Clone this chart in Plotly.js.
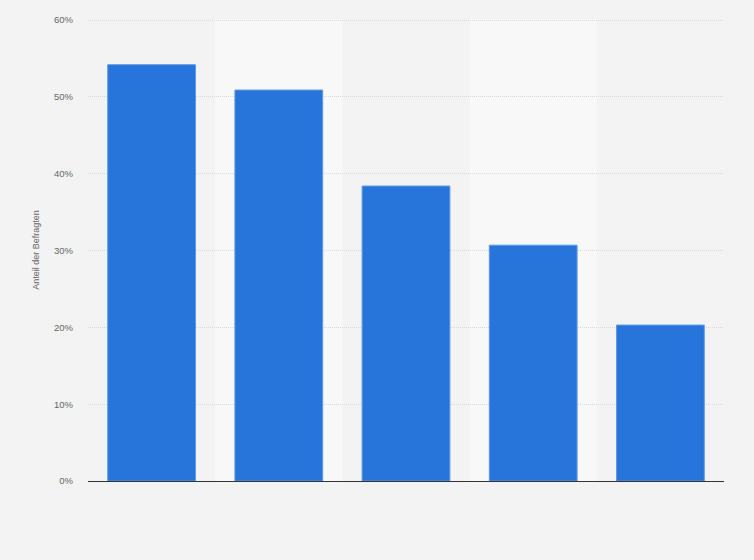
<!DOCTYPE html>
<html>
<head>
<meta charset="utf-8">
<script src="https://cdn.plot.ly/plotly-3.0.1.min.js"></script>
<style>
  html, body { margin: 0; padding: 0; background: #f3f3f3; }
  #chart { width: 754px; height: 560px; }
</style>
</head>
<body>
<div id="chart"></div>
<script>
"use strict";

// the reference shows no category labels, so the categories are only indices
var categories = [1, 2, 3, 4, 5];
var shares = [54.2, 50.9, 38.4, 30.7, 20.3];
var yTicks = [0, 10, 20, 30, 40, 50, 60];
var yTickText = ["0%", "10%", "20%", "30%", "40%", "50%", "60%"];

// lighter column band behind every second category
var bands = [];
categories.forEach(function(cat, i) {
    if (i % 2 === 1) {
        bands.push({
            type: "rect",
            layer: "below",
            xref: "x",
            yref: "paper",
            x0: cat - 0.5,
            x1: cat + 0.5,
            y0: 0,
            y1: 1,
            fillcolor: "#f8f8f8",
            line: {width: 0}
        });
    }
});

var data = [{
    type: "bar",
    x: categories,
    y: shares,
    marker: {
        color: "#2775da",
        line: {color: "#5d97e6", width: 1}
    },
    hoverinfo: "y"
}];

var layout = {
    width: 754,
    height: 560,
    margin: {l: 88, r: 30, t: 19, b: 79},
    paper_bgcolor: "#f3f3f3",
    plot_bgcolor: "#f3f3f3",
    bargap: 0.31,
    showlegend: false,
    font: {family: "Arial, Liberation Sans, sans-serif", size: 10, color: "#666"},
    xaxis: {
        type: "linear",
        range: [0.5, 5.5],
        showticklabels: false,
        showgrid: false,
        zeroline: false,
        ticks: "",
        showline: true,
        linecolor: "#333",
        linewidth: 1.2
    },
    yaxis: {
        range: [0, 60.15],   // a little headroom so the 60% grid line is still drawn
        tickvals: yTicks,
        ticktext: yTickText,
        showgrid: true,
        gridcolor: "#d9d9d9",
        griddash: "1px,1px",
        gridwidth: 1,
        zeroline: false,
        ticks: "",
        ticklabelstandoff: 14,
        tickfont: {size: 9.5, color: "#666"},
        title: {
            text: "Anteil der Befragten",
            font: {size: 9, color: "#666"},
            standoff: 12
        }
    },
    shapes: bands
};

Plotly.newPlot("chart", data, layout, {displayModeBar: false, staticPlot: true});
</script>
</body>
</html>
